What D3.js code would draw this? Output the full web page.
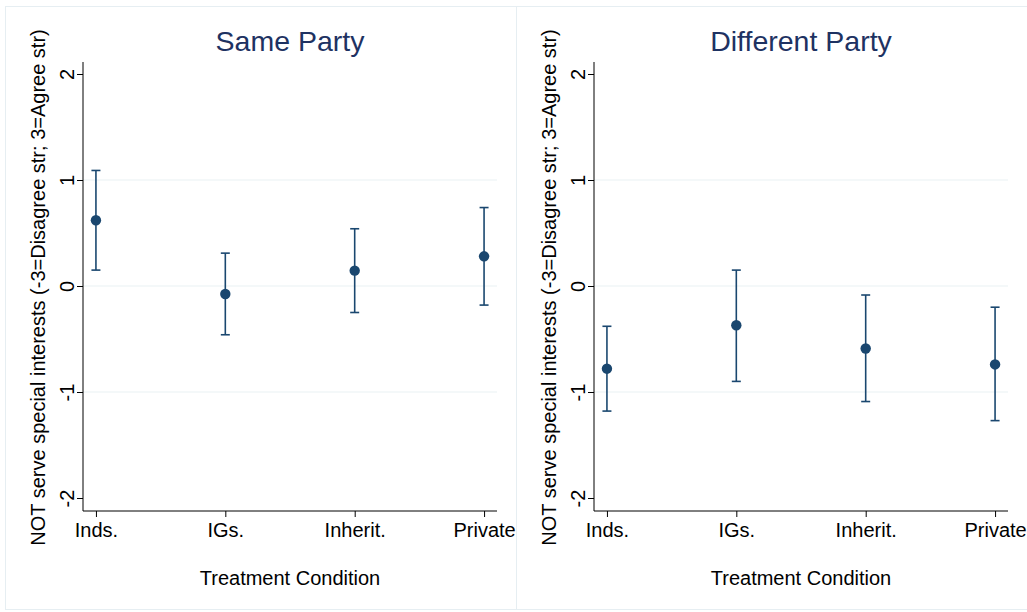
<!DOCTYPE html>
<html>
<head>
<meta charset="utf-8">
<script src="https://cdn.jsdelivr.net/npm/d3@7"></script>
<style>
  body { margin: 0; background: #fff; }
  svg { display: block; font-family: "Liberation Sans", Arial, sans-serif; }
</style>
</head>
<body>
<svg id="chart" width="1027" height="612"></svg>
<script>
// data
const categories = ["Inds.", "IGs.", "Inherit.", "Private"];
const yTicks = [-2, -1, 0, 1, 2];
const panelTitles = ["Same Party", "Different Party"];
const sameMean  = [0.62, -0.075, 0.145, 0.28];
const sameLo    = [0.15, -0.46, -0.25, -0.18];
const sameHi    = [1.09, 0.31, 0.54, 0.74];
const diffMean  = [-0.78, -0.37, -0.59, -0.74];
const diffLo    = [-1.18, -0.90, -1.09, -1.27];
const diffHi    = [-0.38, 0.15, -0.085, -0.20];

const panels = [
  { title: panelTitles[0], mean: sameMean, lo: sameLo, hi: sameHi },
  { title: panelTitles[1], mean: diffMean, lo: diffLo, hi: diffHi }
];

const svg = d3.select('#chart');
const navy = '#1a476f';
const panelW = 511;

// plot area inside each panel (panel-local coords)
const plot = { left: 78, right: 492, top: 62, bottom: 511 };
const yTop = 74, yBot = 498; // pixel positions of 2 and -2

panels.forEach((p, i) => {
  const ox = 5 + i * panelW;
  const g = svg.append('g').attr('transform', `translate(${ox},0)`);

  g.append('rect')
    .attr('x', 0.5).attr('y', 6.5).attr('width', panelW).attr('height', 603)
    .attr('fill', '#fff').attr('stroke', '#e6eef2').attr('stroke-width', 1);

  const x = d3.scaleLinear().domain([0.9, 4.1]).range([plot.left, plot.right]);
  const y = d3.scaleLinear().domain([-2, 2]).range([yBot, yTop]);

  // gridlines
  g.append('g').selectAll('line')
    .data(yTicks.filter(t => t !== 2 && t !== -2))
    .join('line')
    .attr('x1', plot.left).attr('x2', plot.right)
    .attr('y1', d => y(d)).attr('y2', d => y(d))
    .attr('stroke', '#eaf2f3').attr('stroke-width', 1.2);

  // y axis
  const ya = g.append('g').attr('transform', `translate(${plot.left},0)`)
    .call(d3.axisLeft(y).tickValues(yTicks).tickSize(6).tickFormat(d => String(d)));
  ya.select('.domain').attr('d', `M0,${plot.top}V${plot.bottom}`).attr('stroke', '#000');
  ya.selectAll('.tick line').attr('stroke', '#000');
  ya.selectAll('.tick text')
    .attr('x', null).attr('dy', null)
    .attr('transform', 'translate(-16,0) rotate(-90)')
    .attr('text-anchor', 'middle')
    .attr('dominant-baseline', 'central')
    .attr('fill', '#000')
    .style('font-size', '20px');

  // x axis
  const xa = g.append('g').attr('transform', `translate(0,${plot.bottom})`)
    .call(d3.axisBottom(x).tickValues([1, 2, 3, 4]).tickSize(6)
      .tickFormat(d => categories[d - 1]));
  xa.select('.domain').attr('d', `M${plot.left},0H${plot.right}`).attr('stroke', '#000');
  xa.selectAll('.tick line').attr('stroke', '#000');
  xa.selectAll('.tick text').attr('y', 12).attr('fill', '#000').style('font-size', '20px');

  // error bars
  const rows = categories.map((c, k) => ({ k: k + 1, m: p.mean[k], lo: p.lo[k], hi: p.hi[k] }));
  const eb = g.append('g').selectAll('g').data(rows).join('g');
  eb.append('line')
    .attr('x1', d => x(d.k)).attr('x2', d => x(d.k))
    .attr('y1', d => y(d.lo)).attr('y2', d => y(d.hi))
    .attr('stroke', navy).attr('stroke-width', 1.6);
  eb.append('line')
    .attr('x1', d => x(d.k) - 4.5).attr('x2', d => x(d.k) + 4.5)
    .attr('y1', d => y(d.hi)).attr('y2', d => y(d.hi))
    .attr('stroke', navy).attr('stroke-width', 1.6);
  eb.append('line')
    .attr('x1', d => x(d.k) - 4.5).attr('x2', d => x(d.k) + 4.5)
    .attr('y1', d => y(d.lo)).attr('y2', d => y(d.lo))
    .attr('stroke', navy).attr('stroke-width', 1.6);
  eb.append('circle')
    .attr('cx', d => x(d.k)).attr('cy', d => y(d.m)).attr('r', 5.2)
    .attr('fill', navy);

  // titles
  g.append('text')
    .attr('x', (plot.left + plot.right) / 2).attr('y', 51)
    .attr('text-anchor', 'middle')
    .attr('fill', '#1e3262')
    .style('font-size', '28.5px')
    .text(p.title);

  g.append('text')
    .attr('x', (plot.left + plot.right) / 2).attr('y', 585)
    .attr('text-anchor', 'middle')
    .attr('fill', '#000')
    .style('font-size', '20px')
    .text('Treatment Condition');

  g.append('text')
    .attr('transform', `translate(33,${(plot.top + plot.bottom) / 2 + 1}) rotate(-90)`)
    .attr('text-anchor', 'middle')
    .attr('dominant-baseline', 'central')
    .attr('fill', '#000')
    .style('font-size', '20px')
    .text('NOT serve special interests (-3=Disagree str; 3=Agree str)');
});
</script>
</body>
</html>
